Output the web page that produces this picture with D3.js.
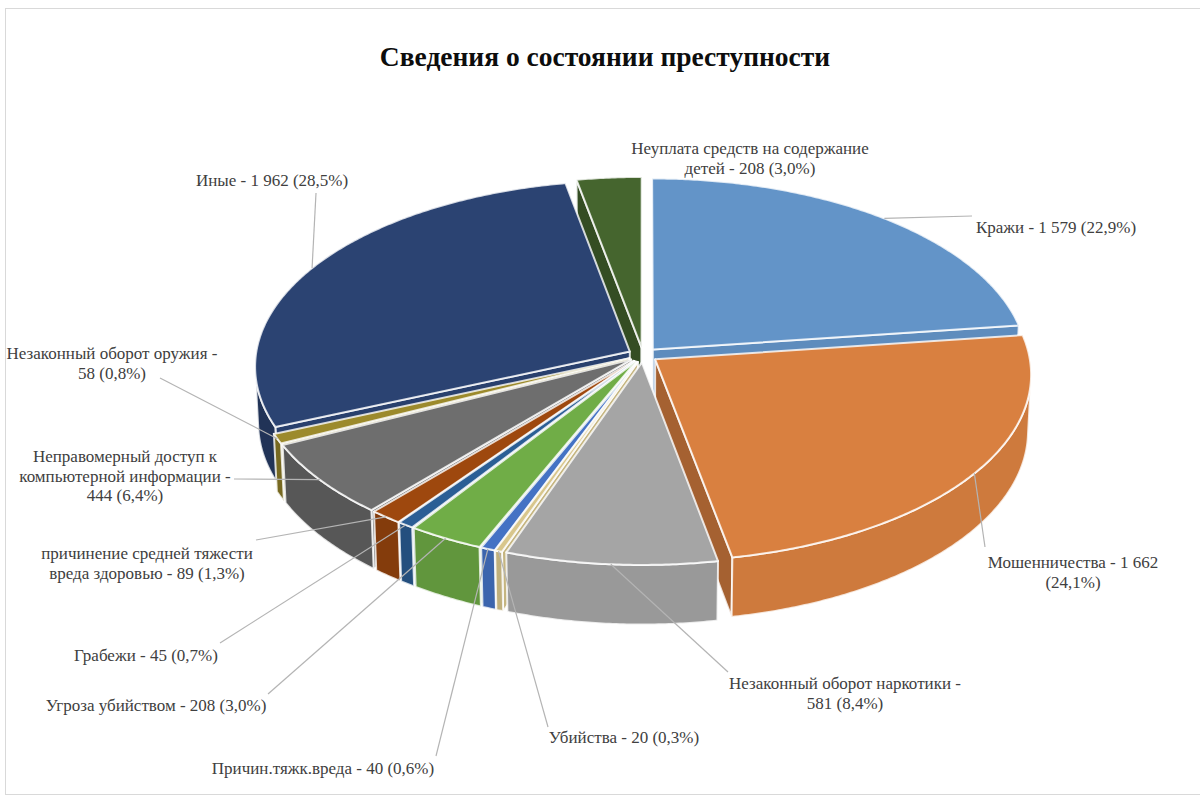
<!DOCTYPE html>
<html>
<head>
<meta charset="utf-8">
<script src="https://cdn.jsdelivr.net/npm/d3@7"></script>
<style>
  html, body { margin: 0; padding: 0; background: #ffffff; }
  svg { display: block; }
</style>
</head>
<body>
<svg id="chart" width="1200" height="797"></svg>
<script>
// ==============================
// DATA
// ==============================

const categories = [
  "Кражи",
  "Мошенничества",
  "Незаконный оборот наркотики",
  "Убийства",
  "Причин.тяжк.вреда",
  "Угроза убийством",
  "Грабежи",
  "причинение средней тяжести вреда здоровью",
  "Неправомерный доступ к компьютерной информации",
  "Незаконный оборот оружия",
  "Иные",
  "Неуплата средств на содержание детей"
];

const values = [1579, 1662, 581, 20, 40, 208, 45, 89, 444, 58, 1962, 208];

const colors = [
  "#6394c8", "#d98040", "#a5a5a5", "#d8c68c", "#4472c4", "#70ad47",
  "#2b5e95", "#9e480e", "#6e6e6e", "#9c8a2c", "#2b4372", "#45652e"
];

// ==============================
// LAYOUT
// ==============================

const title = "Сведения о состоянии преступности";

// label centre, first line centre, words per wrapped line, leader start
const labelLayout = [
  { x: 1056, y: 227, wrap: [],     lead: [972, 216] },
  { x: 1073, y: 562, wrap: [3],    lead: [985, 547] },
  { x: 845,  y: 683, wrap: [4],    lead: [728, 672] },
  { x: 624,  y: 737, wrap: [],     lead: [548, 727] },
  { x: 323,  y: 768, wrap: [],     lead: [436, 756] },
  { x: 156,  y: 705, wrap: [],     lead: [268, 694] },
  { x: 146,  y: 655, wrap: [],     lead: [220, 643] },
  { x: 147,  y: 553, wrap: [3],    lead: [256, 540] },
  { x: 125,  y: 456, wrap: [3, 3], lead: [234, 479] },
  { x: 112,  y: 353, wrap: [4],    lead: [160, 378] },
  { x: 272,  y: 180, wrap: [],     lead: [316, 193] },
  { x: 750,  y: 148, wrap: [4],    lead: null }
];

const lineHeight = 19.5;

// 3D view
const cam = { cx: 643, cy: 355, scale: 374, dist: 11, tilt: 29.7 * Math.PI / 180 };
const thickness = 0.175;
const explode = 0.04;

const sinT = Math.sin(cam.tilt);
const cosT = Math.cos(cam.tilt);
const eye = [0, cam.dist * sinT, cam.dist * cosT];

// ==============================
// FORMATTING
// ==============================

const ru = d3.formatLocale({ decimal: ",", thousands: " ", grouping: [3], currency: ["", ""] });
const fmtValue = ru.format(",d");
const total = d3.sum(values);
const fmtPct = v => d3.format(".1f")(v / total * 100).replace(".", ",") + "%";

const data = categories.map((name, i) => ({ name, value: values[i], color: colors[i], i }));

// ==============================
// PROJECTION
// ==============================

function project(x, y, z) {
  const d = cam.dist - y * sinT - z * cosT;
  const k = cam.scale * cam.dist / d;
  return [cam.cx + x * k, cam.cy - (y * cosT - z * sinT) * k];
}

function shade(color, t) {
  // side faces lit from the front-right
  const f = 0.76 + 0.2 * Math.max(0, Math.cos(t - 150 * Math.PI / 180));
  const c = d3.rgb(color);
  return d3.rgb(c.r * f, c.g * f, c.b * f).formatHex();
}

function sliceFaces(a) {
  const mid = (a.startAngle + a.endAngle) / 2;
  const ox = explode * Math.sin(mid);
  const oz = -explode * Math.cos(mid);
  const span = a.endAngle - a.startAngle;
  const steps = Math.max(2, Math.ceil(span / (0.5 * Math.PI / 180)));
  const angles = d3.range(steps + 1).map(i => a.startAngle + span * i / steps);
  const rim = (t, y) => project(ox + Math.sin(t), y, oz - Math.cos(t));
  const centre = y => project(ox, y, oz);
  const faces = [];

  // radial faces
  const ex = eye[0] - ox;
  const ez = eye[2] - oz;
  [[a.startAngle, -1], [a.endAngle, 1]].forEach(([t, sgn]) => {
    const nx = sgn * Math.cos(t);
    const nz = sgn * Math.sin(t);
    if (nx * ex + nz * ez > 0) {
      const nt = Math.atan2(nx, -nz);
      faces.push({
        fill: shade(a.data.color, nt),
        pts: [centre(0), rim(t, 0), rim(t, -thickness), centre(-thickness)]
      });
    }
  });

  // outer curved side, only the parts facing the eye
  let run = [];
  const flush = () => {
    if (run.length > 1) {
      const tm = (run[0] + run[run.length - 1]) / 2;
      faces.push({
        fill: shade(a.data.color, tm),
        pts: run.map(t => rim(t, 0)).concat(run.slice().reverse().map(t => rim(t, -thickness)))
      });
    }
    run = [];
  };
  angles.forEach(t => {
    const nx = Math.sin(t);
    const nz = -Math.cos(t);
    const vis = nx * (eye[0] - ox - nx) + nz * (eye[2] - oz - nz) > 0;
    if (vis) run.push(t); else flush();
  });
  flush();

  // top face
  faces.push({ fill: a.data.color, pts: [centre(0)].concat(angles.map(t => rim(t, 0))) });

  return { faces, anchor: rim(mid, 0) };
}

// ==============================
// DRAW
// ==============================

const svg = d3.select("#chart");

svg.append("rect")
  .attr("x", 5.5)
  .attr("y", 8.5)
  .attr("width", 1210)
  .attr("height", 786)
  .attr("fill", "none")
  .attr("stroke", "#d9d9d9")
  .attr("stroke-width", 1);

svg.append("text")
  .attr("x", 605)
  .attr("y", 66)
  .attr("text-anchor", "middle")
  .attr("font-family", "'Liberation Serif', 'Times New Roman', serif")
  .attr("font-size", "27.5px")
  .attr("font-weight", "700")
  .attr("fill", "#0d0d0d")
  .text(title);

const pie = d3.pie().sort(null).value(d => d.value);
const arcs = pie(data);
const slices = arcs.map(a => ({ a, ...sliceFaces(a) }));

// far slices first
const order = slices.slice().sort((p, q) => {
  const dp = Math.abs((p.a.startAngle + p.a.endAngle) / 2 - Math.PI);
  const dq = Math.abs((q.a.startAngle + q.a.endAngle) / 2 - Math.PI);
  return dq - dp;
});

const line = d3.line();
const pieGroup = svg.append("g").attr("class", "pie");

order.forEach(s => {
  pieGroup.append("g")
    .selectAll("path")
    .data(s.faces)
    .enter()
    .append("path")
    .attr("d", f => line(f.pts) + "Z")
    .attr("fill", f => f.fill)
    .attr("stroke", "rgba(255,255,255,0.8)")
    .attr("stroke-width", 2)
    .attr("stroke-linejoin", "round");
});

// leader lines
const leaders = svg.append("g").attr("class", "leaders");
slices.forEach((s, i) => {
  const lay = labelLayout[i];
  if (!lay.lead) return;
  leaders.append("path")
    .attr("d", line([lay.lead, s.anchor]))
    .attr("fill", "none")
    .attr("stroke", "#b4b4b4")
    .attr("stroke-width", 1.2);
});

// labels
const labels = svg.append("g").attr("class", "labels");
data.forEach((d, i) => {
  const lay = labelLayout[i];
  const tokens = (d.name + " -").split(" ").concat([fmtValue(d.value), "(" + fmtPct(d.value) + ")"]);
  const lines = [];
  let pos = 0;
  lay.wrap.forEach(n => {
    lines.push(tokens.slice(pos, pos + n).join(" "));
    pos += n;
  });
  lines.push(tokens.slice(pos).join(" "));

  const text = labels.append("text")
    .attr("text-anchor", "middle")
    .attr("font-family", "'Liberation Serif', 'Times New Roman', serif")
    .attr("font-size", "17px")
    .attr("fill", "#404040");

  lines.forEach((l, j) => {
    text.append("tspan")
      .attr("x", lay.x)
      .attr("y", lay.y + 6 + j * lineHeight)
      .text(l);
  });
});
</script>
</body>
</html>
